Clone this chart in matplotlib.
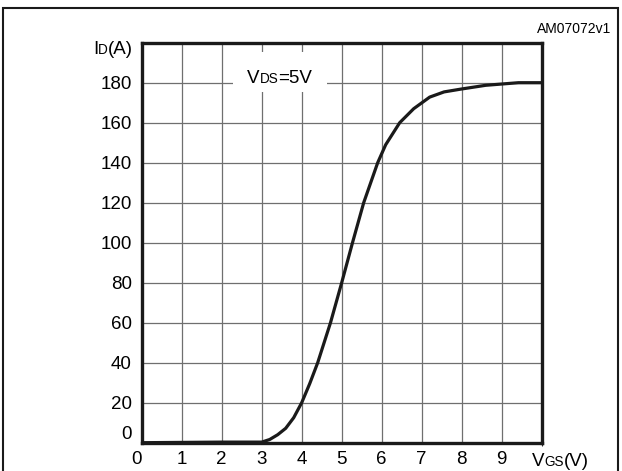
import matplotlib
matplotlib.use("Agg")
import matplotlib.pyplot as plt
from matplotlib.patches import Rectangle

plt.rcParams['font.family'] = ['Liberation Sans', 'DejaVu Sans']

# Data: drain current vs gate-source voltage
vgs = [0.0, 2.0, 3.0, 3.2, 3.4, 3.6, 3.8, 4.0, 4.2, 4.4, 4.72, 5.0, 5.27,
       5.55, 5.9, 6.1, 6.45, 6.8, 7.2, 7.56, 7.98, 8.6, 9.42, 10.0]
id_a = [0.0, 0.3, 0.3, 1.6, 4.0, 7.2, 12.5, 20.0, 29.5, 40.0, 60.0, 80.0,
        100.0, 120.0, 140.0, 149.0, 160.0, 167.0, 172.8, 175.4, 176.8,
        178.7, 180.0, 180.0]

x_ticks = list(range(0, 10))
y_ticks = list(range(0, 181, 20))

W, H = 622, 471
fig = plt.figure(figsize=(W / 100, H / 100), dpi=100)
ax = fig.add_axes([141.7 / W, 1 - 442.7 / H, 400 / W, 400 / H])

ax.set_xlim(0, 10)
ax.set_ylim(0, 200)
ax.set_xticks(x_ticks)
ax.set_yticks(y_ticks)
ax.tick_params(length=0, labelsize=13.5, colors='black')
ax.tick_params(axis='x', pad=6)
ax.tick_params(axis='y', pad=7)
ax.set_xticks(range(0, 11), minor=True)
ax.grid(True, which='both', color='#6f6f6f', lw=0.9)
ax.set_axisbelow(True)
for s in ax.spines.values():
    s.set_linewidth(2.4)
    s.set_color('#1a1a1a')

# first tick labels sit inside the corner
fig.canvas.draw()
ax.get_xticklabels()[0].set_ha('right')
ax.get_yticklabels()[0].set_va('bottom')

ax.plot(vgs, id_a, color='#1a1a1a', lw=2.3, solid_capstyle='round',
        solid_joinstyle='round', zorder=3)

# white box behind the VDS label
ax.add_patch(Rectangle((2.29, 175.2), 2.34, 20.3, facecolor='white',
                       edgecolor='none', zorder=2))

renderer = fig.canvas.get_renderer()


def chain(x_px, y_px, parts, align='left'):
    """Place text pieces of different sizes on one baseline (pixel coords)."""
    seq = parts if align == 'left' else parts[::-1]
    x = x_px
    for txt, size in seq:
        t = fig.text(x / W, 1 - y_px / H, txt, fontsize=size, ha=align,
                     va='baseline', zorder=5)
        ext = t.get_window_extent(renderer)
        x = ext.x1 if align == 'left' else ext.x0


chain(133, 54, [("I", 13.5), ("D", 9.8), ("(A)", 13.5)], align='right')
chain(531.5, 466, [("V", 13.5), ("GS", 9.8), ("(V)", 13.5)])
chain(247, 83, [("V", 13.5), ("DS", 9.8), ("=5V", 13.5)])

fig.text(611 / W, 1 - 33 / H, "AM07072v1", fontsize=10, ha='right',
         va='baseline')

# outer frame
fig.add_artist(Rectangle((3 / W, -0.05), 615 / W, 1.05 - 7.5 / H,
                         transform=fig.transFigure, fill=False,
                         edgecolor='#1a1a1a', lw=1.5))

fig.savefig("out.png", dpi=100)
